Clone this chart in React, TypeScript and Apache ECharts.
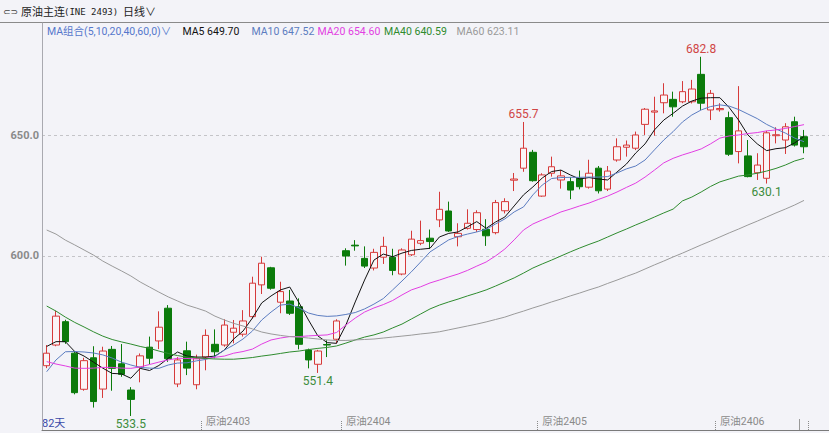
import React, { useEffect, useRef } from 'react';
import * as echarts from 'echarts';

// ---- data ----
const opens = [
  554.4, 563, 572.7, 559.6, 544.6, 557.7, 544.7, 561.2, 555.2, 544.3,
  553.8, 562.1, 564.7, 578.3, 546.8, 560.6, 546.5, 558, 563.3, 563,
  568.3, 567.5, 574.8, 588, 595.1, 580.8, 581.3, 578.9, 560.9, 555,
  563.2, 565.4, 602.2, 604.5, 599, 595, 599.5, 599.5, 592.5, 600.5,
  605.3, 607.4, 615, 618.7, 608, 611.5, 611, 611.1, 609.7, 618.8,
  631.5, 636.5, 643.1, 624.9, 634.4, 631.6, 630.9, 632.3, 628.6, 636.5,
  627.8, 639.9, 645.2, 644.8, 654.7, 659.8, 663.7, 665.1, 664.1, 664.1,
  675.5, 660.7, 660.8, 657.5, 643.4, 641.6, 634.6, 632.3, 650, 648.2,
  655.8, 649.6,
];
const closes = [
  559.6, 575, 564.4, 543.2, 556.5, 539.5, 560.5, 553.3, 550.8, 540.4,
  558.5, 557.5, 570.4, 557.3, 556.8, 553.4, 557.5, 567, 560.2, 571.3,
  570, 573, 588.7, 597, 586.6, 585.2, 576.2, 563.3, 556.8, 560.5,
  563, 573, 600, 604.2, 595.8, 601.5, 604, 594, 602.5, 607,
  606.4, 606, 619.4, 610.4, 609.4, 613.6, 618, 608.4, 622.2, 622.6,
  632, 644.8, 631.3, 633.7, 637.1, 633.3, 627.4, 628.8, 634.4, 627.1,
  635.3, 645.4, 646.1, 650.3, 661, 660.3, 666.9, 662, 668.3, 669.4,
  663.5, 667.6, 661.3, 642.3, 652, 633, 637.8, 651.2, 650.4, 653.7,
  646.1, 645.4,
];
const lows = [
  553.4, 562.5, 563.5, 542.5, 544, 537, 541, 544, 549.8, 533.5,
  547.5, 555, 561.3, 556, 545.5, 550.5, 544.6, 552.5, 557.5, 562.3,
  563.7, 566.5, 574, 584.2, 586, 576.2, 575.5, 561.2, 553.3, 551.4,
  558, 563.7, 596, 602.2, 595, 594, 596.7, 592, 592, 600,
  604.5, 603, 612, 610, 604, 611, 610, 604.2, 609, 617.7,
  627, 635, 630.9, 624.6, 633, 628, 623.6, 627.7, 628, 626,
  627, 639.2, 641.3, 644, 650.3, 650, 659.3, 657.9, 663.5, 663.4,
  660.7, 656.5, 660, 641.6, 638.5, 632.7, 631.6, 630.1, 646.8, 642.4,
  645.5, 642.7,
];
const highs = [
  563, 577.2, 573.5, 560.5, 557.7, 562.5, 562.3, 562.6, 563.4, 545.5,
  559.5, 566.5, 577, 579.6, 558, 564.4, 559, 569.5, 569.5, 573.7,
  573.4, 577.5, 591.4, 599.7, 595.5, 589.3, 585.9, 582.4, 561.5, 561,
  565, 573.7, 603.2, 606.6, 604, 603, 608, 603, 603.2, 610.5,
  614.7, 611, 626.7, 622.6, 613.6, 619.4, 619, 615.3, 623.3, 624,
  634.5, 655.7, 644.1, 634.4, 641.3, 635.7, 632.7, 635.5, 640, 637.4,
  637.4, 648.9, 648, 651.7, 661.5, 666.2, 671.8, 668.3, 672.7, 673.2,
  682.8, 669, 663.5, 660, 670.6, 648.2, 642.7, 652, 653.5, 655.2,
  657.9, 652.4,
];
const ma5 = [
  562.4, 564.4, 564.4, 560.3, 558.4, 555.9, 553.4, 551.2, 551, 549.2,
  553.3, 552.4, 554.5, 557.5, 560.1, 558.4, 558, 558, 558.4, 560.9,
  565.5, 568.8, 574.2, 580.5, 583.4, 585.9, 587.1, 580.5, 573.4, 566.8,
  564, 563.7, 571.3, 580.9, 590, 598.3, 600.8, 599.7, 601.2, 602.3,
  602.8, 603.2, 607.9, 609.4, 610, 612.1, 614.3, 611.5, 614.1, 616.2,
  620.8, 625.4, 628.7, 632.4, 635.1, 635.7, 633.7, 632, 632.6, 632,
  631.6, 634.9, 638.2, 642.8, 646.6, 652.4, 656.5, 659.3, 662.3, 664.4,
  665.6, 665.8, 665.8, 661.7, 656.5, 650.3, 646.6, 643.8, 644.6, 645,
  647, 649.7,
];
const ma10 = [
  551.9, 556.8, 560.2, 560.3, 560.1, 559.7, 558.9, 557.6, 555.9, 554.7,
  553.7, 553.4, 553.3, 554.7, 555.5, 555.6, 556.4, 557, 558.2, 560.9,
  563, 565.5, 568.8, 573.4, 576.7, 579.6, 580, 578.4, 576.3, 575.3,
  574.9, 575.1, 575.7, 576.5, 578, 580, 582.3, 585.9, 589.6, 593.4,
  597.5, 601.7, 604.2, 606.7, 608.1, 609.1, 610, 611.1, 613.3, 615.4,
  618.3, 620.4, 625.4, 629.5, 632.2, 632.6, 632.7, 632.7, 632.8, 632.8,
  633, 634.5, 636.2, 637.4, 639.9, 644.1, 648.2, 651.7, 655.7, 658.6,
  660.7, 662.1, 662.8, 662.3, 660.9, 659, 657.1, 654.7, 652.8, 651.1,
  649, 647.5,
];
const ma20 = [
  556.1, 555.1, 554.3, 553.4, 553.3, 553.4, 553.7, 553.7, 553.4, 553.3,
  553.9, 554.9, 555.9, 556.8, 557.5, 557.4, 557.2, 557.4, 557.9, 558.4,
  559.6, 560.3, 561.3, 563.4, 565.1, 565.9, 566.5, 566.5, 566.8, 567,
  567.2, 568.2, 571.3, 574.2, 576.7, 578.4, 579.8, 581.5, 583.8, 585.9,
  587.2, 588.8, 590, 591.3, 592.5, 594, 595.8, 597.5, 600, 602.9,
  606.7, 610.8, 613.3, 615, 616.6, 618.3, 619.5, 620.8, 622, 623.5,
  624.9, 626.6, 628.5, 630.3, 632.8, 635.7, 638.7, 640.6, 642, 643.2,
  644.5, 646.6, 649, 649.9, 650.3, 650.9, 651.3, 652, 652.4, 653,
  653.8, 654.6,
];
const ma40 = [
  579.2, 577.1, 574.6, 572.4, 570.5, 568.5, 566.7, 565.3, 564.3, 563.4,
  562.4, 561.6, 560.5, 559.5, 558.6, 558, 557.7, 557.4, 557.2, 557.1,
  557.1, 557.4, 557.8, 558.4, 558.9, 559.5, 560.1, 560.5, 561.1, 561.6,
  562, 562.6, 563.8, 565.1, 566.3, 567.2, 568.4, 570.1, 571.7, 573.8,
  575.9, 578, 579.6, 580.9, 582.1, 583.4, 584.6, 585.9, 587.5, 589.2,
  590.9, 592.9, 595, 596.7, 598.3, 600, 601.7, 603.3, 604.8, 606.2,
  607.9, 609.6, 611.2, 612.9, 614.5, 616.2, 617.9, 619.5, 622.9, 624.5,
  626.6, 628.9, 630.8, 632, 633.2, 633.7, 634.4, 635.3, 636.4, 637.8,
  639.5, 640.6,
];
const ma60 = [
  610.8, 609.1, 606.6, 604.6, 602.5, 600.4, 597.9, 595.8, 593.8, 591.7,
  589.2, 587.1, 585, 583, 581.3, 579.6, 578.4, 577.1, 575, 573.4,
  572, 570.9, 569.7, 568.4, 567.6, 567, 566.5, 566.3, 565.9, 565.5,
  565.1, 564.9, 564.9, 565.1, 565.3, 565.5, 565.9, 566.3, 566.7, 567.1,
  567.6, 568, 568.5, 569.3, 570.1, 570.9, 571.7, 572.6, 573.6, 574.6,
  575.9, 577.1, 578.4, 579.6, 580.9, 582.1, 583.4, 584.6, 585.9, 587.1,
  588.6, 590, 591.5, 592.9, 594.6, 596.3, 597.9, 599.6, 601.2, 602.9,
  604.6, 606.2, 607.9, 609.6, 611.2, 612.9, 614.5, 616.2, 617.9, 619.5,
  621.2, 623.1,
];
const maNames = ['MA5', 'MA10', 'MA20', 'MA40', 'MA60'];
const maLast = ['649.70', '647.52', '654.60', '640.59', '623.11'];
const contractTicks = [17, 32, 53, 72];
const contractNames = ['原油2403', '原油2404', '原油2405', '原油2406'];
const yTickValues = [600, 650];
const highMarks = [51, 70];
const lowMarks = [9, 29, 77];

// ---- styles ----
const BG = '#f3f3f8';
const UP = '#d63a3a';
const DOWN = '#0b7b0b';
const MA_COLORS = ['#111111', '#5b7cc0', '#e23ee2', '#2e8b2e', '#9a9a9a'];
const FONT = "Roboto, 'Noto Sans CJK SC', sans-serif";

const Y_MIN = 527.68;
const Y_MAX = 696.84;

export default function App() {
  const ref = useRef<HTMLDivElement>(null);
  useEffect(() => {
    if (!ref.current) return;
    const chart = echarts.init(ref.current, undefined, { renderer: 'svg' });
    const cats = closes.map((_, i) => String(i + 1));
    const ohlc = opens.map((o, i) => [o, closes[i], lows[i], highs[i]]);
    const mas = [ma5, ma10, ma20, ma40, ma60];

    const markData = [
      ...highMarks.map((i) => ({
        coord: [cats[i], highs[i]],
        value: highs[i],
        label: { position: 'top', distance: 2, color: '#d04545' },
      })),
      ...lowMarks.map((i) => ({
        coord: [cats[i], lows[i]],
        value: lows[i],
        label: { position: 'bottom', distance: 2, color: '#3c8c3c' },
      })),
    ];

    const legendX = [182.5, 251.5, 317.5, 384, 456.5];
    const legendFont = `10.5px ${FONT}`;
    const graphic: any[] = [
      { type: 'line', shape: { x1: 0, y1: 22.5, x2: 829, y2: 22.5 }, style: { stroke: '#8a8a8a', lineWidth: 1 } },
      { type: 'text', x: 3, y: 12, style: { text: '⊂⊃', fill: '#444', font: '9px DejaVu Sans', textVerticalAlign: 'middle' } },
      { type: 'text', x: 21, y: 12, style: { text: '原油主连', fill: '#222', font: `11px ${FONT}`, textVerticalAlign: 'middle' } },
      { type: 'text', x: 64, y: 12, style: { text: '(INE 2493)', fill: '#222', font: "9px 'DejaVu Sans Mono', monospace", textVerticalAlign: 'middle' } },
      { type: 'text', x: 123, y: 12, style: { text: '日线∨', fill: '#222', font: `11px ${FONT}`, textVerticalAlign: 'middle' } },
      { type: 'text', x: 47, y: 31, style: { text: 'MA组合(5,10,20,40,60,0)∨', fill: '#5577cc', font: legendFont, textVerticalAlign: 'middle' } },
      ...maNames.map((n, k) => ({
        type: 'text', x: legendX[k], y: 31,
        style: { text: `${n} ${maLast[k]}`, fill: MA_COLORS[k], font: legendFont, textVerticalAlign: 'middle' },
      })),
      { type: 'text', x: 42, y: 423, style: { text: '82天', fill: '#3a4aa8', font: `11px ${FONT}`, textVerticalAlign: 'middle' } },
      { type: 'line', shape: { x1: 799.5, y1: 419, x2: 799.5, y2: 430 }, style: { stroke: '#999', lineWidth: 1 } },
    ];

    chart.setOption({
      animation: false,
      backgroundColor: BG,
      grid: [
        { left: 42, right: 20.3, top: 23, bottom: 3 },
        { left: 42, right: 0, top: 23, bottom: 3 },
      ],
      xAxis: [
        {
          type: 'category', gridIndex: 0, data: cats, boundaryGap: true,
          axisLine: { show: false },
          axisTick: {
            show: true, inside: true, length: 9, alignWithLabel: false,
            interval: (i: number) => contractTicks.includes(i),
            lineStyle: { color: '#8a8a8a', type: [1, 1] },
          },
          axisLabel: {
            inside: true, interval: 0, align: 'left', margin: 3,
            color: '#8a8a8a', fontSize: 10.5, fontFamily: FONT,
            formatter: (_v: string, idx: number) => {
              const k = contractTicks.indexOf(idx);
              return k >= 0 ? contractNames[k] : '';
            },
          },
          splitLine: { show: false },
        },
        {
          type: 'value', gridIndex: 1, min: 0, max: 1,
          axisLine: { show: true, lineStyle: { color: '#7a7a7a' } },
          axisTick: { show: false }, axisLabel: { show: false }, splitLine: { show: false },
        },
      ],
      yAxis: [
        { type: 'value', gridIndex: 0, min: Y_MIN, max: Y_MAX, show: false, splitLine: { show: false } },
        {
          type: 'value', gridIndex: 1, min: Y_MIN, max: Y_MAX,
          axisLine: { show: true, lineStyle: { color: '#a9a9b0' } },
          axisTick: { show: false, customValues: yTickValues },
          axisLabel: {
            customValues: yTickValues, margin: 3, color: '#8a8a8a', fontWeight: 'bold',
            fontSize: 11, fontFamily: FONT, formatter: (v: number) => v.toFixed(1),
          },
          splitLine: { show: true, lineStyle: { color: '#c4c4c8', type: [3, 3] } },
        },
      ],
      graphic,
      series: [
        {
          type: 'candlestick', xAxisIndex: 0, yAxisIndex: 0, data: ohlc, barWidth: 7, z: 2,
          itemStyle: { color: '#fbf4f6', color0: DOWN, borderColor: UP, borderColor0: DOWN, borderWidth: 1 },
          markPoint: {
            symbol: 'circle', symbolSize: 0, silent: true,
            label: { show: true, fontSize: 12, fontFamily: FONT, formatter: (p: any) => Number(p.value).toFixed(1) },
            data: markData,
          },
        },
        ...mas.map((d, k) => ({
          type: 'line', xAxisIndex: 0, yAxisIndex: 0, data: d, showSymbol: false, z: 3,
          lineStyle: { color: MA_COLORS[k], width: 1 }, silent: true,
        })),
      ],
    });
    return () => chart.dispose();
  }, []);
  return <div ref={ref} style={{ position: 'fixed', left: 0, top: 0, width: 829, height: 433 }} />;
}
